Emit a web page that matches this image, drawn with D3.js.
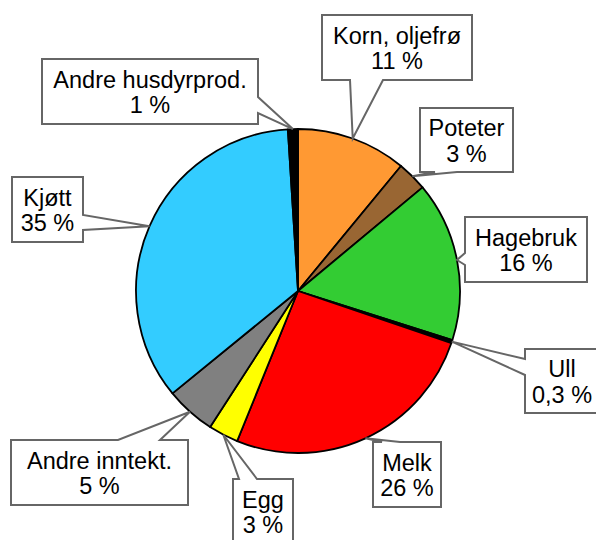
<!DOCTYPE html>
<html>
<head>
<meta charset="utf-8">
<script src="https://cdn.jsdelivr.net/npm/d3@7"></script>
<style>
  body { margin: 0; background: #fff; }
  svg { display: block; }
</style>
</head>
<body>
<div id="chart"></div>
<script>
// slices, clockwise from 12 o'clock
const categories = ["Korn, oljefrø", "Poteter", "Hagebruk", "Ull", "Melk", "Egg", "Andre inntekt.", "Kjøtt", "Andre husdyrprod."]
const values = [11, 3, 16, 0.3, 26, 3, 5, 35, 1]
const valueLabels = ["11 %", "3 %", "16 %", "0,3 %", "26 %", "3 %", "5 %", "35 %", "1 %"]
const colors = ["#ff9933", "#996633", "#33cc33", "#000000", "#ff0000", "#ffff00", "#808080", "#33ccff", "#000000"]

const width = 596, height = 540
const cx = 298, cy = 291, radius = 162

// callout boxes: x, y, w, h, side where the tail leaves, tail base offsets along that side
const boxes = [
    { x: 322, y: 15, w: 150, h: 65, side: "bottom", b0: 28, b1: 61 },
    { x: 420, y: 108, w: 93, h: 64, side: "bottom", b0: 15, b1: 37 },
    { x: 465, y: 217, w: 122, h: 65, side: "left", b0: 36, b1: 48 },
    { x: 525, y: 349, w: 74, h: 64, side: "left", b0: 10, b1: 26 },
    { x: 373, y: 442, w: 68, h: 65, side: "top", b0: 9, b1: 27 },
    { x: 233, y: 479, w: 60, h: 65, side: "top", b0: 6, b1: 24 },
    { x: 11, y: 440, w: 177, h: 65, side: "top", b0: 107, b1: 149 },
    { x: 12, y: 177, w: 71, h: 65, side: "right", b0: 38, b1: 53 },
    { x: 42, y: 59, w: 216, h: 65, side: "right", b0: 38, b1: 54 }
]

const svg = d3.select("#chart").append("svg")
    .attr("width", width)
    .attr("height", height)

const g = svg.append("g").attr("transform", "translate(" + cx + "," + cy + ")")

const pie = d3.pie().sort(null).value(d => d)
const arcs = pie(values)

const arc = d3.arc().innerRadius(0).outerRadius(radius)
const rim = d3.arc().innerRadius(radius).outerRadius(radius)

g.selectAll("path.slice")
    .data(arcs)
    .enter().append("path")
    .attr("class", "slice")
    .attr("d", arc)
    .attr("fill", (d, i) => colors[i])
    .attr("stroke", "#000")
    .attr("stroke-width", 1.8)
    .attr("stroke-linejoin", "round")

function calloutPath(b, apex) {
    const { x, y, w, h, side, b0, b1 } = b
    let pts
    if (side === "top") {
        pts = [[x, y], [x + b0, y], apex, [x + b1, y], [x + w, y], [x + w, y + h], [x, y + h]]
    } else if (side === "bottom") {
        pts = [[x, y], [x + w, y], [x + w, y + h], [x + b1, y + h], apex, [x + b0, y + h], [x, y + h]]
    } else if (side === "left") {
        pts = [[x, y], [x + w, y], [x + w, y + h], [x, y + h], [x, y + b1], apex, [x, y + b0]]
    } else {
        pts = [[x, y], [x + w, y], [x + w, y + b0], apex, [x + w, y + b1], [x + w, y + h], [x, y + h]]
    }
    return d3.line()(pts) + "Z"
}

const labels = svg.append("g")
    .selectAll("g")
    .data(arcs)
    .enter().append("g")

labels.append("path")
    .attr("d", (d, i) => {
        const c = rim.centroid(d)
        return calloutPath(boxes[i], [c[0] + cx, c[1] + cy])
    })
    .attr("fill", "#fff")
    .attr("stroke", "#666")
    .attr("stroke-width", 2)
    .attr("stroke-linejoin", "miter")

const text = labels.append("text")
    .attr("text-anchor", "middle")
    .attr("font-family", "Liberation Sans, Arial, sans-serif")
    .attr("font-size", 23.5)
    .attr("fill", "#000")

text.append("tspan")
    .attr("x", (d, i) => boxes[i].x + boxes[i].w / 2)
    .attr("y", (d, i) => boxes[i].y + boxes[i].h / 2 - 4)
    .text((d, i) => categories[i])

text.append("tspan")
    .attr("x", (d, i) => boxes[i].x + boxes[i].w / 2)
    .attr("y", (d, i) => boxes[i].y + boxes[i].h / 2 + 21.5)
    .text((d, i) => valueLabels[i])
</script>
</body>
</html>
